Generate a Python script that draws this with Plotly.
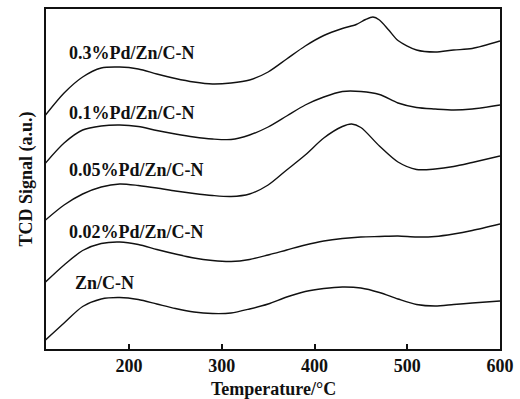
import plotly.graph_objects as go

# Temperature grid (°C) shared by the profiles, plus extra points around the sharp 0.3% peak
t_grid = [110, 130, 150, 170, 190, 210, 230, 250, 270, 290, 310, 330, 350, 370, 390,
          410, 430, 450, 470, 490, 510, 530, 550, 570, 600]

t_03 = [110, 130, 150, 170, 190, 210, 230, 250, 270, 290, 310, 330, 350, 370, 390,
        410, 430, 445, 455, 463, 470, 480, 490, 510, 530, 550, 570, 600]
s_03 = [234, 256, 272, 281, 282, 280, 275, 270.5, 267, 265, 266, 269, 277, 290, 303,
        313.5, 320.5, 324.5, 329.5, 332, 329, 319, 308.5, 299, 297, 299, 300.5, 308]

t_01 = t_grid
s_01 = [186, 206, 219, 223, 224, 222.5, 218.5, 215, 212, 210, 209.5, 214, 222, 233, 244,
        252, 257.5, 257.5, 254.5, 246, 241.5, 240, 239, 240, 244]

t_005 = [110, 130, 150, 170, 190, 210, 230, 250, 270, 290, 310, 330, 350, 370, 390,
         410, 430, 440, 450, 470, 490, 510, 530, 550, 570, 600]
s_005 = [129, 144, 155, 162, 165, 163.5, 161, 158, 155.5, 153.5, 152.5, 155, 164, 179, 194,
         211, 222.5, 225, 221.5, 203, 187, 179.5, 180, 182.5, 186.5, 193]

t_002 = t_grid
s_002 = [67, 84, 98.5, 105.5, 107, 104.5, 99.5, 95, 91, 88.5, 87.5, 89.5, 94, 99, 104,
         108, 110.5, 112, 112.5, 113, 112, 112.5, 115, 118.5, 125]

t_zn = t_grid
s_zn = [9, 26, 42.5, 50, 51.5, 49.5, 45, 40.5, 37, 35.5, 36, 40, 45, 52, 57.5,
        60.5, 62, 61, 56.5, 50, 44.5, 43, 44.5, 46, 48]

series = [
    ("0.3%Pd/Zn/C-N", t_03, s_03),
    ("0.1%Pd/Zn/C-N", t_01, s_01),
    ("0.05%Pd/Zn/C-N", t_005, s_005),
    ("0.02%Pd/Zn/C-N", t_002, s_002),
    ("Zn/C-N", t_zn, s_zn),
]

# Label anchor positions (temperature, signal)
label_x = [133, 133, 133, 133, 140]
label_y = [296, 236, 179, 117, 66]

tick_vals = [200, 300, 400, 500, 600]

font_family = "Liberation Serif, Times New Roman, serif"
text_font = dict(family=font_family, size=18, color="#111111")

fig = go.Figure()
for name, t, s in series:
    fig.add_trace(go.Scatter(
        x=t, y=s, mode="lines", name=name,
        line=dict(color="#111111", width=1.4, shape="spline", smoothing=0.8),
        showlegend=False, hoverinfo="skip",
    ))

for (name, _, _), lx, ly in zip(series, label_x, label_y):
    fig.add_annotation(
        x=lx, y=ly, xref="x", yref="y", text=f"<b>{name}</b>",
        showarrow=False, xanchor="left", yanchor="middle",
        font=text_font,
    )

# x-axis title placed just below the tick labels
fig.add_annotation(
    x=0.5, y=0, xref="paper", yref="paper", yshift=-40,
    text="<b>Temperature/°C</b>", showarrow=False,
    xanchor="center", yanchor="middle",
    font=text_font,
)

fig.update_layout(
    width=520, height=399,
    margin=dict(l=46, r=20, t=9, b=50),
    paper_bgcolor="white", plot_bgcolor="white",
    font=text_font,
)
fig.update_xaxes(
    range=[110.5, 600], tickvals=tick_vals,
    ticktext=[f"<b>{v}</b>" for v in tick_vals],
    tickfont=text_font,
    ticks="inside", ticklen=5, tickwidth=1.5, tickcolor="#111111",
    showline=True, linecolor="#111111", linewidth=1.5, mirror=True,
    showgrid=False, zeroline=False,
    automargin=False,
)
fig.update_yaxes(
    range=[0, 340], showticklabels=False, ticks="",
    showline=True, linecolor="#111111", linewidth=1.5, mirror=True,
    showgrid=False, zeroline=False,
    title=dict(text="<b>TCD Signal (a.u.)</b>", standoff=7, font=text_font),
    automargin=False,
)

fig.write_html("out.html")
